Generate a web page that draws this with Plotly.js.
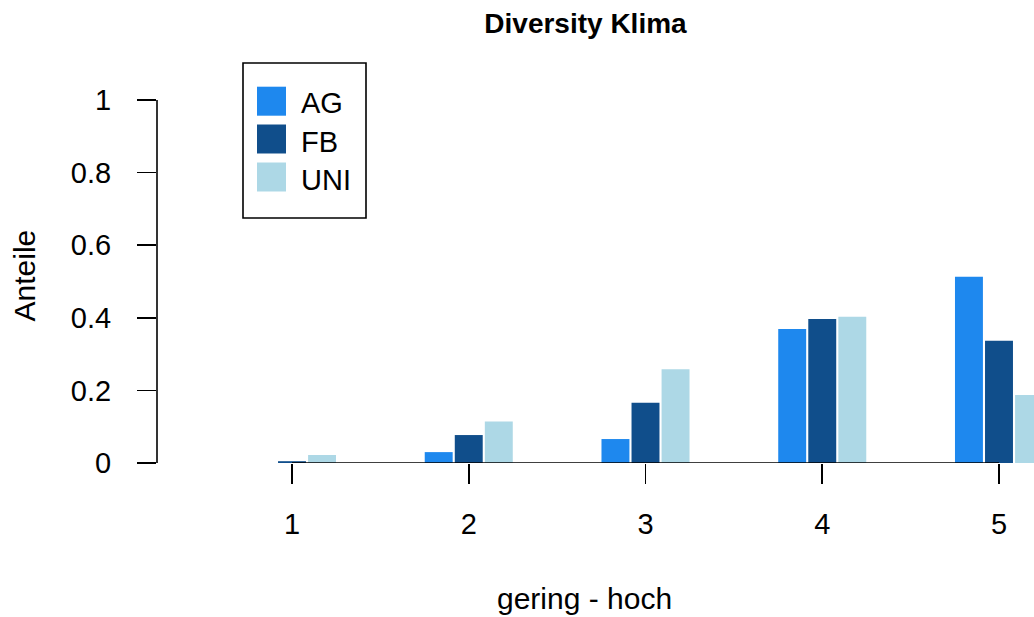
<!DOCTYPE html>
<html>
<head>
<meta charset="utf-8">
<script src="https://cdn.plot.ly/plotly-3.0.1.min.js"></script>
<style>html,body{margin:0;padding:0;background:#fff;}#chart{width:1034px;height:617px;}</style>
</head>
<body>
<div id="chart"></div>
<script>
// ---- data ----
var categories = [1, 2, 3, 4, 5];
var seriesNames = ["AG", "FB", "UNI"];
var AG  = [0.000, 0.030, 0.066, 0.369, 0.513];
var FB  = [0.005, 0.077, 0.166, 0.397, 0.337];
var UNI = [0.022, 0.114, 0.258, 0.403, 0.187];
var yTicks = [0, 0.2, 0.4, 0.6, 0.8, 1];
var yTickText = ["0", "0.2", "0.4", "0.6", "0.8", "1"];
var chartTitle = "Diversity Klima";
var xTitle = "gering - hoch";
var yTitle = "Anteile";

// ---- style ----
var colors = ["#1E88EE", "#104E8B", "#ADD8E6"];
var font = "Liberation Sans, Arial, sans-serif";
var fs = 29;
var W = 1034, H = 617;
var L = 157, R = 0, T = 100, B = 154;
var pw = W - L - R, ph = H - T - B;
function px2x(px) { return (px - L) / pw; }
function px2y(py) { return (H - B - py) / ph; }

var values = [AG, FB, UNI];
var traces = seriesNames.map(function (n, i) {
  return {
    type: "bar", name: n, x: categories, y: values[i],
    marker: { color: colors[i], line: { width: 0 } },
    showlegend: false, hoverinfo: "x+y+name"
  };
});

// custom legend (large swatches like R)
var shapes = [
  { type: "line", xref: "x", yref: "y", x0: 1, x1: 5, y0: 0, y1: 0, line: { color: "#000", width: 1.6 } },
  { type: "line", xref: "paper", yref: "y", x0: 0, x1: 0, y0: 0, y1: 1, line: { color: "#000", width: 1.6 } },
  { type: "rect", xref: "paper", yref: "paper", x0: px2x(243), x1: px2x(366), y0: px2y(218), y1: px2y(63),
    line: { color: "#000", width: 1.6 }, fillcolor: "rgba(0,0,0,0)" }
];
var annotations = [
  { text: xTitle, xref: "paper", yref: "paper", x: px2x(584), y: px2y(598), xanchor: "center", yanchor: "middle",
    showarrow: false, font: { family: font, size: 30, color: "#000" } },
  { text: yTitle, xref: "paper", yref: "paper", x: px2x(24), y: px2y(275.5), xanchor: "center", yanchor: "middle",
    textangle: -90, showarrow: false, font: { family: font, size: 30, color: "#000" } }
];
var swTop = [86.7, 124.5, 162.5];
var lblY = [103, 141.5, 179.7];
seriesNames.forEach(function (n, i) {
  shapes.push({ type: "rect", xref: "paper", yref: "paper", x0: px2x(257), x1: px2x(286),
    y0: px2y(swTop[i] + 29), y1: px2y(swTop[i]), line: { width: 0 }, fillcolor: colors[i] });
  annotations.push({ text: n, xref: "paper", yref: "paper", x: px2x(299), y: px2y(lblY[i]),
    xanchor: "left", yanchor: "middle", showarrow: false,
    font: { family: font, size: fs, color: "#000" } });
});

var layout = {
  width: W, height: H,
  margin: { l: L, r: R, t: T, b: B, pad: 0 },
  paper_bgcolor: "#fff", plot_bgcolor: "#fff",
  font: { family: font, size: fs, color: "#000" },
  title: { text: "<b>" + chartTitle + "</b>", x: 585.5 / W, xref: "container", xanchor: "center",
    y: 1 - 23 / H, yref: "container", yanchor: "middle", font: { family: font, size: 28, color: "#000" } },
  barmode: "group", bargap: 0.49, bargroupgap: 0.07,
  showlegend: false,
  xaxis: {
    range: [1 - (292 - L) / 176.75, 5 + (W - 999) / 176.75],
    tickvals: categories, ticktext: categories.map(String),
    ticks: "outside", ticklen: 20, tickwidth: 1.6, tickcolor: "#000",
    ticklabelstandoff: 15,
    showline: false, showgrid: false, zeroline: false,
    tickfont: { family: font, size: fs, color: "#000" }, fixedrange: true
  },
  yaxis: {
    range: [0, 1],
    tickvals: yTicks, ticktext: yTickText,
    ticks: "outside", ticklen: 19, tickwidth: 1.6, tickcolor: "#000",
    ticklabelstandoff: 20,
    showline: false, showgrid: false, zeroline: false,
    tickfont: { family: font, size: fs, color: "#000" }, fixedrange: true
  },
  shapes: shapes,
  annotations: annotations
};

Plotly.newPlot("chart", traces, layout, { displayModeBar: false, staticPlot: true });
</script>
</body>
</html>
